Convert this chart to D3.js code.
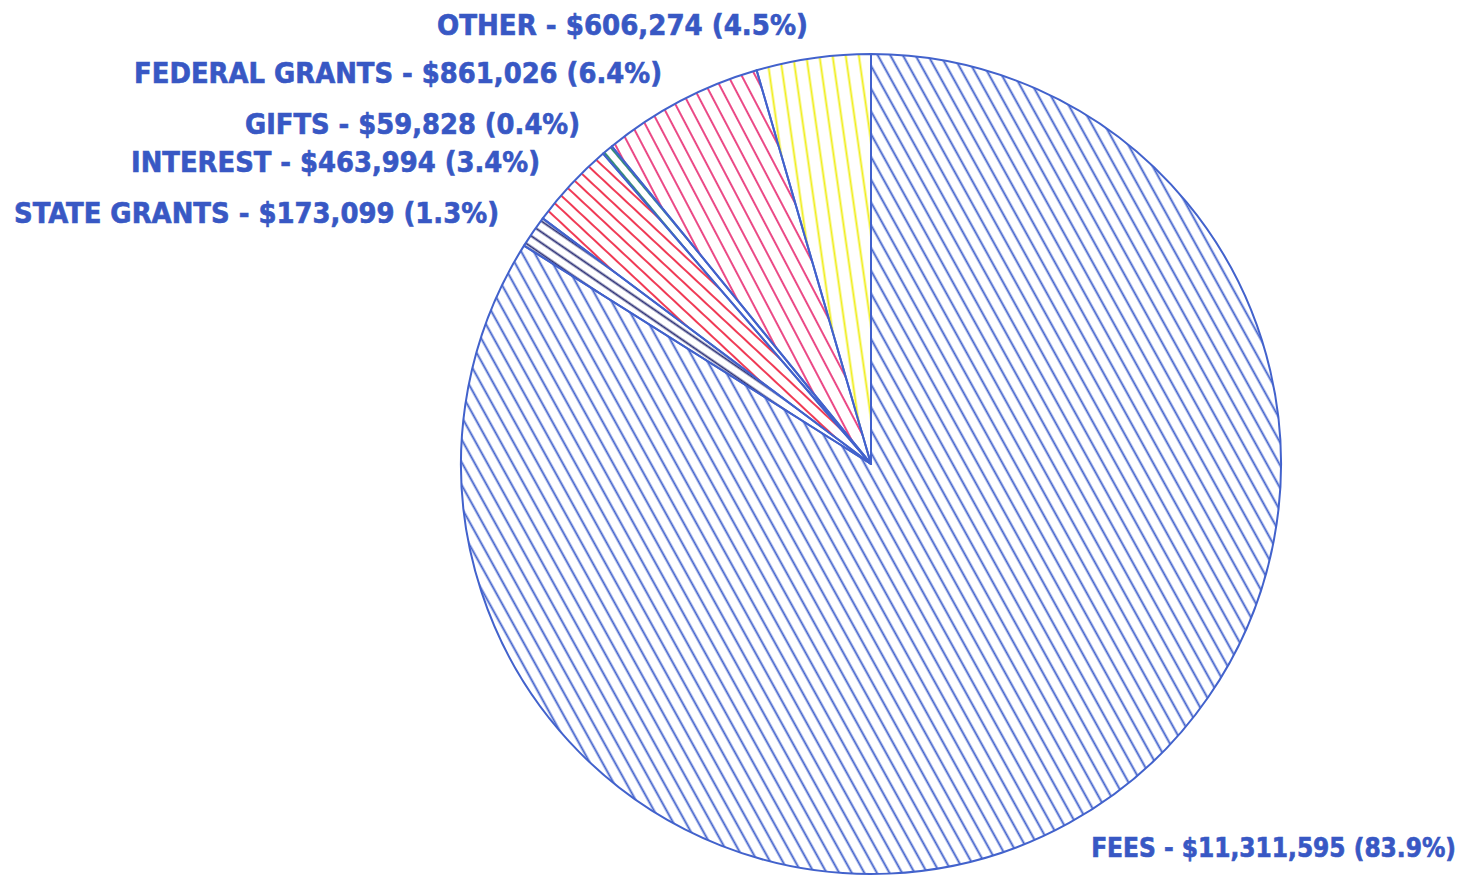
<!DOCTYPE html>
<html>
<head>
<meta charset="utf-8">
<script src="https://cdn.jsdelivr.net/npm/d3@7"></script>
<style>
html,body{margin:0;padding:0;background:#fff;}
svg{display:block;}
</style>
</head>
<body>
<svg id="chart" width="1465" height="879"></svg>
<script>
// Data
const categories = ["FEES", "STATE GRANTS", "INTEREST", "GIFTS", "FEDERAL GRANTS", "OTHER"];
const amounts = [11311595, 173099, 463994, 59828, 861026, 606274];
const percentLabels = ["83.9%", "1.3%", "3.4%", "0.4%", "6.4%", "4.5%"];
const amountLabels = ["$11,311,595", "$173,099", "$463,994", "$59,828", "$861,026", "$606,274"];

// Styles
const hatchColors = ["#3f60cc", "#2a2d74", "#f0304c", "#2c8a70", "#ea4080", "#f0ee18"];
const hatchSpacing = [11, 9, 10, 8, 12, 13];
const outline = "#4262cc";
const textColor = "#3858c4";

const W = 1465, H = 879;
const cx = 871, cy = 464, R = 410;

const svg = d3.select("#chart");
const defs = svg.append("defs");

const pie = d3.pie().sort(null).value(d => d.v).startAngle(0).endAngle(2 * Math.PI);
const data = categories.map((c, i) => ({c, v: amounts[i], i}));
const arcs = pie(data);
const arc = d3.arc().innerRadius(0).outerRadius(R);

const g = svg.append("g").attr("transform", `translate(${cx},${cy})`);

arcs.forEach((a, k) => {
  const mid = (a.startAngle + a.endAngle) / 2;
  const deg = mid * 180 / Math.PI;
  const s = hatchSpacing[k];
  const p = defs.append("pattern")
    .attr("id", "hatch" + k)
    .attr("patternUnits", "userSpaceOnUse")
    .attr("width", s).attr("height", s)
    .attr("patternTransform", `rotate(${deg})`);
  p.append("line")
    .attr("x1", s / 2).attr("y1", -1)
    .attr("x2", s / 2).attr("y2", s + 1)
    .attr("stroke", hatchColors[k])
    .attr("stroke-width", 1.9);
});

g.selectAll("path.slice")
  .data(arcs)
  .join("path")
  .attr("class", "slice")
  .attr("d", arc)
  .attr("fill", (d, k) => `url(#hatch${k})`)
  .attr("stroke", outline)
  .attr("stroke-width", 2)
  .attr("stroke-linejoin", "round");

// Labels
const labelPos = [
  {x: 1456, y: 857, w: 365},
  {x: 499, y: 223, w: 485},
  {x: 540, y: 172, w: 409},
  {x: 580, y: 134, w: 335},
  {x: 662, y: 83, w: 528},
  {x: 808, y: 35, w: 371}
];

const texts = svg.append("g").selectAll("text")
  .data(arcs)
  .join("text")
  .attr("x", (d, k) => labelPos[k].x)
  .attr("y", (d, k) => labelPos[k].y)
  .attr("text-anchor", "end")
  .attr("font-family", "'DejaVu Sans Condensed','Liberation Sans Narrow','Liberation Sans',sans-serif")
  .attr("font-weight", "bold")
  .attr("font-size", 30)
  .attr("fill", textColor)
  .attr("stroke", textColor)
  .attr("stroke-width", 0.6)
  .text((d, k) => `${categories[k]} - ${amountLabels[k]} (${percentLabels[k]})`);

// fit each label's font size to its width in the reference
texts.each(function(d, k) {
  const len = this.getComputedTextLength();
  const fs = 30 * labelPos[k].w / len;
  d3.select(this).attr("font-size", Math.min(fs, 32).toFixed(2));
});
</script>
</body>
</html>
